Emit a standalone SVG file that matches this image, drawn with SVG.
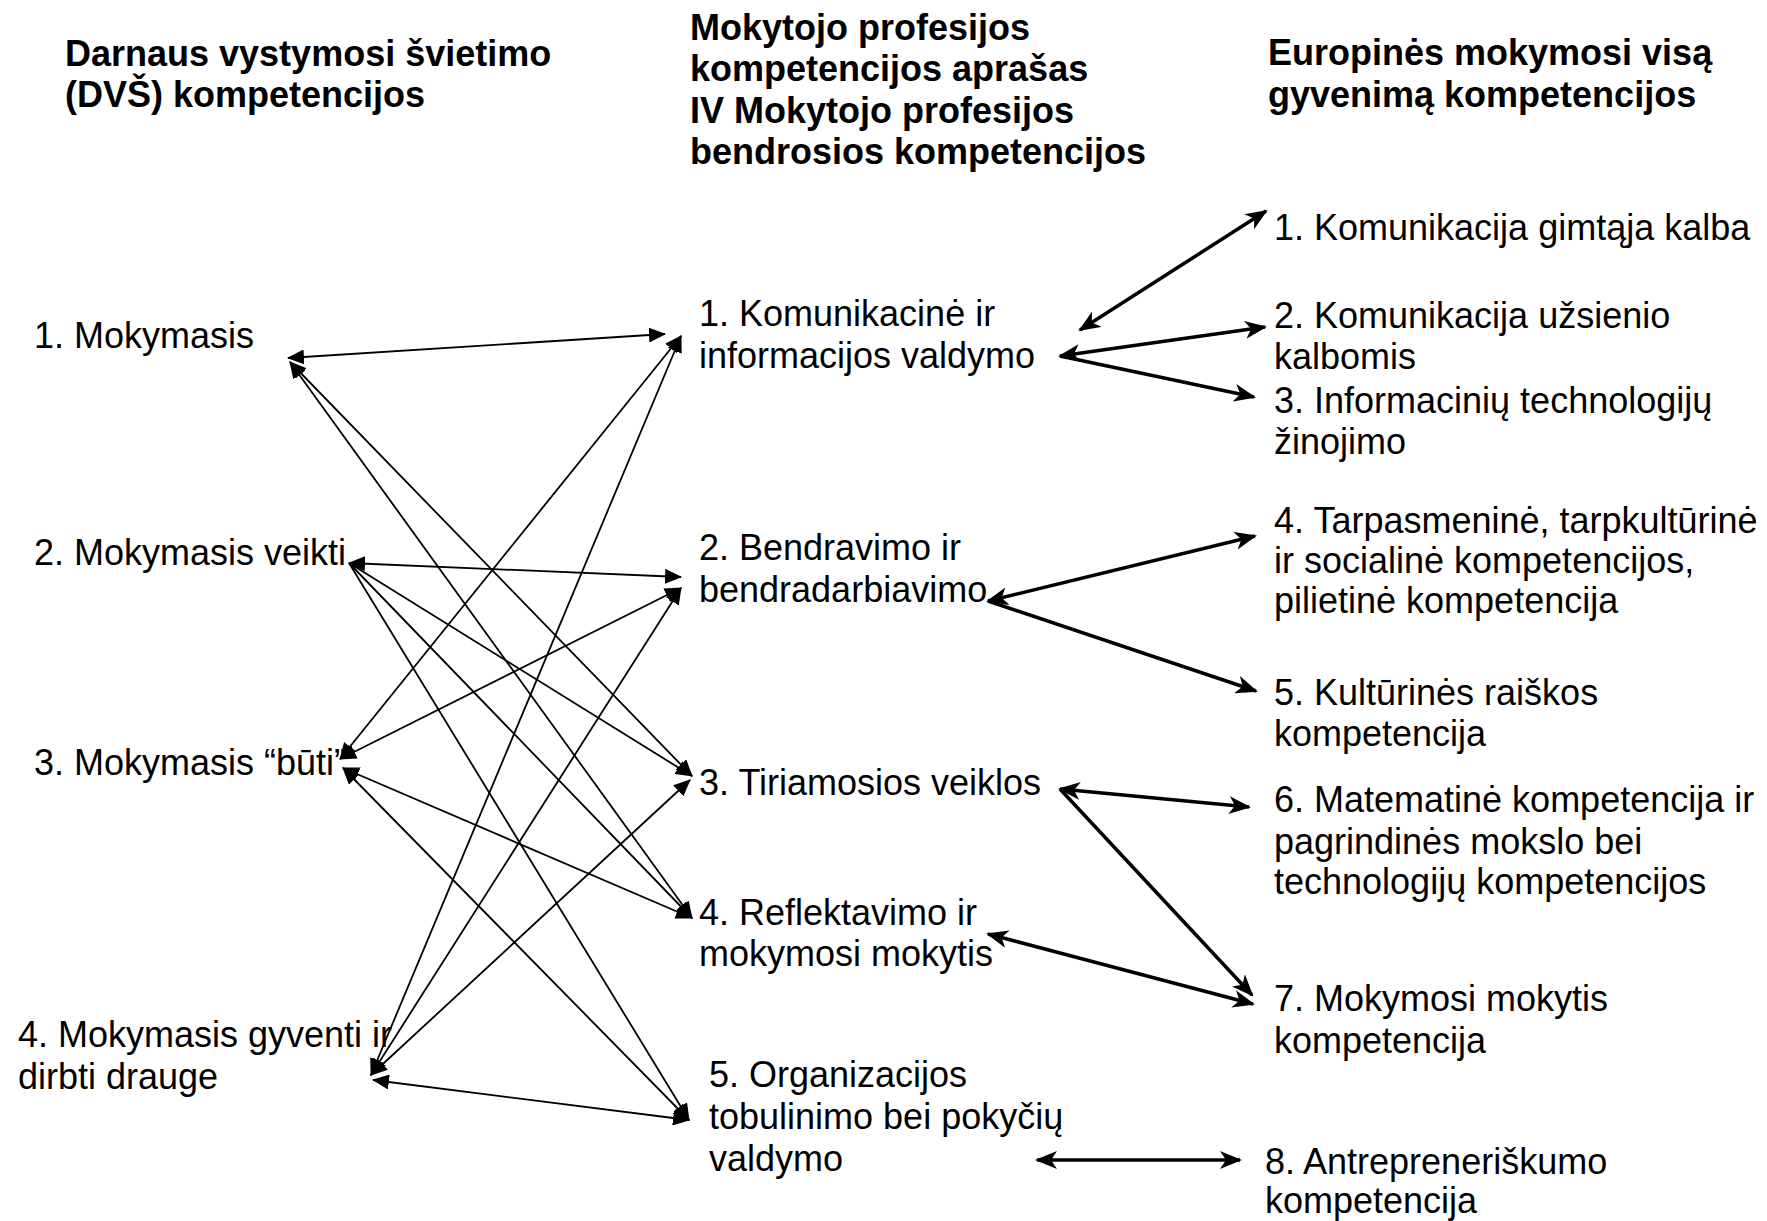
<svg xmlns="http://www.w3.org/2000/svg" width="1767" height="1221" viewBox="0 0 1767 1221">
<style>
text{font-family:"Liberation Sans",Arial,sans-serif;font-size:36px;fill:#000}
.t{font-weight:bold}
.thin{stroke:#000;stroke-width:1.8;fill:none}
.thick{stroke:#000;stroke-width:3.5;fill:none}
</style>
<defs>
<marker id="tri" viewBox="0 0 17 15" refX="16" refY="7.5" markerWidth="17" markerHeight="15" markerUnits="userSpaceOnUse" orient="auto-start-reverse"><path d="M0,0 L17,7.5 L0,15 Z" fill="#000"/></marker>
<marker id="stl" viewBox="0 0 22 18" refX="20" refY="9" markerWidth="22" markerHeight="18" markerUnits="userSpaceOnUse" orient="auto-start-reverse"><path d="M0,0 L22,9 L0,18 L6,9 Z" fill="#000"/></marker>
</defs>
<rect width="1767" height="1221" fill="#fff"/>
<g id="titles">
<text class="t" x="65" y="66">Darnaus vystymosi švietimo</text>
<text class="t" x="65" y="107">(DVŠ) kompetencijos</text>
<text class="t" x="690" y="40">Mokytojo profesijos</text>
<text class="t" x="690" y="81">kompetencijos aprašas</text>
<text class="t" x="690" y="123">IV Mokytojo profesijos</text>
<text class="t" x="690" y="164">bendrosios kompetencijos</text>
<text class="t" x="1268" y="65">Europinės mokymosi visą</text>
<text class="t" x="1268" y="107">gyvenimą kompetencijos</text>
</g>
<g id="connectors">
<line class="thin" x1="288" y1="358" x2="665" y2="334" marker-start="url(#tri)" marker-end="url(#tri)"/>
<line class="thin" x1="290" y1="362" x2="692" y2="776" marker-start="url(#tri)" marker-end="url(#tri)"/>
<line class="thin" x1="290" y1="362" x2="692" y2="918" marker-start="url(#tri)" marker-end="url(#tri)"/>
<line class="thin" x1="349" y1="563" x2="681" y2="577" marker-start="url(#tri)" marker-end="url(#tri)"/>
<line class="thin" x1="349" y1="563" x2="692" y2="776" marker-end="url(#tri)"/>
<line class="thin" x1="349" y1="563" x2="692" y2="918" marker-end="url(#tri)"/>
<line class="thin" x1="349" y1="563" x2="689" y2="1120" marker-end="url(#tri)"/>
<line class="thin" x1="340" y1="759" x2="681" y2="336" marker-start="url(#tri)" marker-end="url(#tri)"/>
<line class="thin" x1="340" y1="759" x2="681" y2="588" marker-start="url(#tri)" marker-end="url(#tri)"/>
<line class="thin" x1="343" y1="768" x2="692" y2="918" marker-start="url(#tri)" marker-end="url(#tri)"/>
<line class="thin" x1="343" y1="768" x2="689" y2="1120" marker-start="url(#tri)" marker-end="url(#tri)"/>
<line class="thin" x1="371" y1="1075" x2="681" y2="336" marker-start="url(#tri)" marker-end="url(#tri)"/>
<line class="thin" x1="371" y1="1075" x2="681" y2="588" marker-start="url(#tri)" marker-end="url(#tri)"/>
<line class="thin" x1="371" y1="1075" x2="690" y2="780" marker-start="url(#tri)" marker-end="url(#tri)"/>
<line class="thin" x1="373" y1="1080" x2="689" y2="1120" marker-start="url(#tri)" marker-end="url(#tri)"/>
<line class="thick" x1="1080" y1="330" x2="1266" y2="211" marker-start="url(#stl)" marker-end="url(#stl)"/>
<line class="thick" x1="1060" y1="356" x2="1265" y2="327" marker-start="url(#stl)" marker-end="url(#stl)"/>
<line class="thick" x1="1060" y1="356" x2="1254" y2="397" marker-end="url(#stl)"/>
<line class="thick" x1="988" y1="601" x2="1255" y2="536" marker-start="url(#stl)" marker-end="url(#stl)"/>
<line class="thick" x1="988" y1="601" x2="1256" y2="691" marker-end="url(#stl)"/>
<line class="thick" x1="1060" y1="789" x2="1249" y2="807" marker-start="url(#stl)" marker-end="url(#stl)"/>
<line class="thick" x1="1060" y1="789" x2="1252" y2="995" marker-end="url(#stl)"/>
<line class="thick" x1="988" y1="934" x2="1253" y2="1004" marker-start="url(#stl)" marker-end="url(#stl)"/>
<line class="thick" x1="1037" y1="1160" x2="1240" y2="1160" marker-start="url(#stl)" marker-end="url(#stl)"/>
</g>
<g id="dvs1"><text x="34" y="348">1. Mokymasis</text></g>
<g id="dvs2"><text x="34" y="565">2. Mokymasis veikti</text></g>
<g id="dvs3"><text x="34" y="775">3. Mokymasis “būti”</text></g>
<g id="dvs4"><text x="18" y="1047">4. Mokymasis gyventi ir</text><text x="18" y="1089">dirbti drauge</text></g>
<g id="mp1"><text x="699" y="326">1. Komunikacinė ir</text><text x="699" y="368">informacijos valdymo</text></g>
<g id="mp2"><text x="699" y="560">2. Bendravimo ir</text><text x="699" y="602">bendradarbiavimo</text></g>
<g id="mp3"><text x="699" y="795">3. Tiriamosios veiklos</text></g>
<g id="mp4"><text x="699" y="925">4. Reflektavimo ir</text><text x="699" y="966">mokymosi mokytis</text></g>
<g id="mp5"><text x="709" y="1087">5. Organizacijos</text><text x="709" y="1129">tobulinimo bei pokyčių</text><text x="709" y="1171">valdymo</text></g>
<g id="eu1"><text x="1274" y="240">1. Komunikacija gimtąja kalba</text></g>
<g id="eu2"><text x="1274" y="328">2. Komunikacija užsienio</text><text x="1274" y="369">kalbomis</text></g>
<g id="eu3"><text x="1274" y="413">3. Informacinių technologijų</text><text x="1274" y="454">žinojimo</text></g>
<g id="eu4"><text x="1274" y="533">4. Tarpasmeninė, tarpkultūrinė</text><text x="1274" y="573">ir socialinė kompetencijos,</text><text x="1274" y="613">pilietinė kompetencija</text></g>
<g id="eu5"><text x="1274" y="705">5. Kultūrinės raiškos</text><text x="1274" y="746">kompetencija</text></g>
<g id="eu6"><text x="1274" y="812">6. Matematinė kompetencija ir</text><text x="1274" y="854">pagrindinės mokslo bei</text><text x="1274" y="894">technologijų kompetencijos</text></g>
<g id="eu7"><text x="1274" y="1011">7. Mokymosi mokytis</text><text x="1274" y="1053">kompetencija</text></g>
<g id="eu8"><text x="1265" y="1174">8. Antrepreneriškumo</text><text x="1265" y="1213">kompetencija</text></g>
</svg>
